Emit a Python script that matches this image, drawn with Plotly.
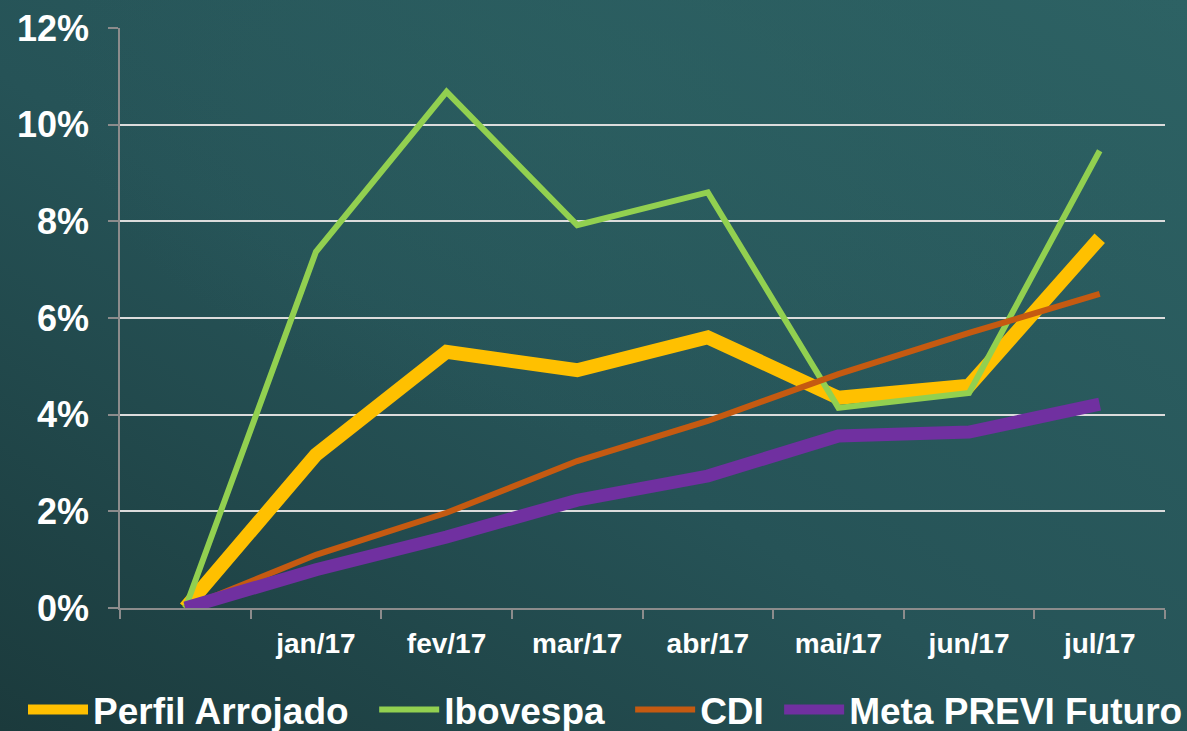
import base64
import plotly.graph_objects as go

months = [" ", "jan/17", "fev/17", "mar/17", "abr/17", "mai/17", "jun/17", "jul/17"]
perfil_arrojado = [0.0, 3.17, 5.30, 4.92, 5.60, 4.35, 4.60, 7.65]
ibovespa = [0.0, 7.37, 10.68, 7.92, 8.60, 4.14, 4.45, 9.46]
cdi = [0.0, 1.10, 1.97, 3.04, 3.87, 4.84, 5.69, 6.50]
meta_previ = [0.0, 0.79, 1.47, 2.23, 2.73, 3.56, 3.64, 4.22]
y_ticks = [0, 2, 4, 6, 8, 10, 12]
y_labels = [f"{v}%" for v in y_ticks]

NB = "\u00a0"
series = [
    ("Perfil Arrojado", NB * 2, perfil_arrojado, "#FFC000", 14),
    ("Ibovespa", NB * 2, ibovespa, "#92D050", 6),
    ("CDI", NB, cdi, "#C55A11", 6),
    ("Meta PREVI Futuro", "", meta_previ, "#7030A0", 13),
]

fig = go.Figure()
for name, pad, vals, color, w in series:
    fig.add_trace(go.Scatter(
        x=months, y=vals, name=name + pad, mode="lines",
        line=dict(color=color, width=w),
    ))

# chalkboard-like background gradient
svg = """<svg xmlns='http://www.w3.org/2000/svg' width='1187' height='731' preserveAspectRatio='none'>
<defs>
<linearGradient id='l' x1='0' y1='1' x2='1' y2='0'>
<stop offset='0' stop-color='#1b3a3c'/><stop offset='0.45' stop-color='#265357'/>
<stop offset='1' stop-color='#2d6264'/></linearGradient>
<radialGradient id='r' cx='0.55' cy='0.1' r='0.5'>
<stop offset='0' stop-color='#2c6062' stop-opacity='0.6'/>
<stop offset='1' stop-color='#2c6062' stop-opacity='0'/></radialGradient>
</defs>
<rect width='1187' height='731' fill='url(#l)'/>
<rect width='1187' height='731' fill='url(#r)'/></svg>"""
uri = "data:image/svg+xml;base64," + base64.b64encode(svg.encode()).decode()

font_family = "Liberation Sans, Arial, sans-serif"
fig.update_layout(
    width=1187, height=731,
    margin=dict(l=120, r=22, t=28, b=123, autoexpand=False),
    paper_bgcolor="#24494a",
    plot_bgcolor="rgba(0,0,0,0)",
    images=[dict(source=uri, xref="paper", yref="paper", x=-120/1045, y=1+28/580,
                 sizex=1187/1045, sizey=731/580, sizing="stretch",
                 xanchor="left", yanchor="top", layer="below")],
    font=dict(family=font_family, color="white", size=28, weight="bold"),
    showlegend=True,
    legend=dict(orientation="h", x=-120/1045 + 23/1045, xanchor="left",
                y=-(710 - 608)/580, yanchor="middle",
                font=dict(family=font_family, size=37, color="white", weight="bold"),
                itemwidth=60, traceorder="normal", bgcolor="rgba(0,0,0,0)",
                tracegroupgap=0),
    xaxis=dict(
        type="category", tickson="boundaries", range=[-0.5, 7.5],
        showgrid=False, showline=True, linecolor="#8c8c8c", linewidth=1.5,
        ticks="outside", ticklen=9, tickcolor="#8c8c8c", tickwidth=1.5,
        tickfont=dict(family=font_family, size=28, color="white", weight="bold"),
        ticklabelstandoff=10, automargin=False,
    ),
    yaxis=dict(
        range=[0, 12], tickvals=y_ticks, ticktext=y_labels,
        showgrid=True, gridcolor="#dcdcdc", gridwidth=1.5, zeroline=False,
        showline=True, linecolor="#8c8c8c", linewidth=1.5,
        ticks="outside", ticklen=10, tickcolor="#8c8c8c", tickwidth=1.5,
        tickfont=dict(family=font_family, size=36, color="white", weight="bold"),
        ticklabelstandoff=12, automargin=False,
    ),
)

fig.write_html(
    "out.html",
    config={"displayModeBar": False},
    post_script="document.body.style.margin='0';document.body.style.overflow='hidden';",
)
